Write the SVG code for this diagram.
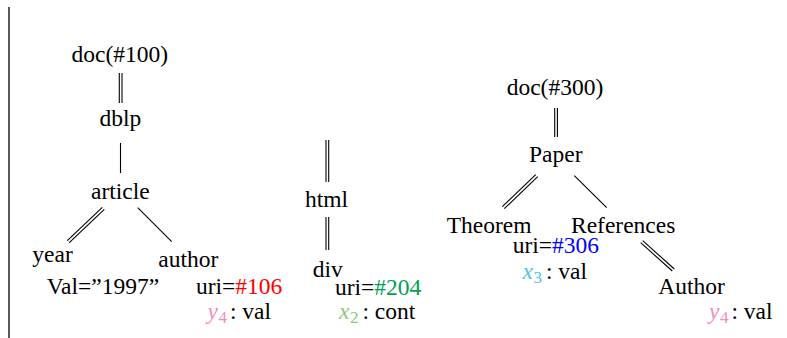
<svg xmlns="http://www.w3.org/2000/svg" width="787" height="338" viewBox="0 0 787 338">
<style>
text{font-family:"Liberation Serif","Times New Roman",serif;font-size:23.5px;fill:#000}
.m{font-style:italic}
.s{font-size:17px;font-style:normal}
.e{stroke:#000;stroke-width:1.1;fill:none}
.red{fill:#ff0000}.grn{fill:#00a055}.blu{fill:#0000ff}
.pink{fill:#f58bbf}.lg{fill:#8cc878}.cy{fill:#4fc3e0}
</style>
<rect width="787" height="338" fill="#fff"/>
<line x1="9" y1="7" x2="9" y2="338" stroke="#000" stroke-width="1.3"/>
<g id="connectors">
<line class="e" x1="119.3" y1="73" x2="119.3" y2="103"/><line class="e" x1="122" y1="73" x2="122" y2="103"/>
<line class="e" x1="120.5" y1="143" x2="120.5" y2="173"/>
<line class="e" x1="102.3" y1="207.3" x2="67.3" y2="240.7"/><line class="e" x1="104.3" y1="209.3" x2="69.3" y2="242.7"/>
<line class="e" x1="137.7" y1="207.7" x2="171.7" y2="241.7"/>
<line class="e" x1="326" y1="140" x2="326" y2="182"/><line class="e" x1="328.7" y1="140" x2="328.7" y2="182"/>
<line class="e" x1="326" y1="217" x2="326" y2="250"/><line class="e" x1="328.7" y1="217" x2="328.7" y2="250"/>
<line class="e" x1="554.7" y1="108" x2="554.7" y2="137"/><line class="e" x1="557.4" y1="108" x2="557.4" y2="137"/>
<line class="e" x1="535.7" y1="174.7" x2="502.3" y2="206.7"/><line class="e" x1="537.7" y1="176.7" x2="504.3" y2="208.7"/>
<line class="e" x1="574.3" y1="175.7" x2="606.7" y2="207.7"/>
<line class="e" x1="642.7" y1="240.7" x2="674.3" y2="269"/><line class="e" x1="640.7" y1="242.7" x2="672.3" y2="271"/>
</g>
<g id="doc100"><text x="71.5" y="61.5">doc(#100)</text></g>
<g id="dblp"><text x="99.5" y="126">dblp</text></g>
<g id="article"><text x="91" y="198.5">article</text></g>
<g id="year"><text x="32.3" y="261.5">year</text><text x="46.7" y="293.5">Val=”1997”</text></g>
<g id="author"><text x="158.3" y="266.5">author</text>
<text x="196" y="293.5">uri=<tspan class="red">#106</tspan></text>
<text x="207.5" y="318.5"><tspan class="m pink">y</tspan><tspan class="s pink" dx="0.5" dy="4">4</tspan><tspan dx="3" dy="-4">: val</tspan></text></g>
<g id="html"><text x="305" y="206.5">html</text></g>
<g id="div"><text x="312.7" y="276.5">div</text>
<text x="335" y="295">uri=<tspan class="grn">#204</tspan></text>
<text x="339" y="318.5"><tspan class="m lg">x</tspan><tspan class="s lg" dx="0.5" dy="4">2</tspan><tspan dx="4" dy="-4">: cont</tspan></text></g>
<g id="doc300"><text x="506.7" y="95">doc(#300)</text></g>
<g id="paper"><text x="529" y="161.5">Paper</text></g>
<g id="theorem"><text x="446.7" y="232.5">Theorem</text>
<text x="512.7" y="253">uri=<tspan class="blu">#306</tspan></text>
<text x="522.5" y="278.5"><tspan class="m cy">x</tspan><tspan class="s cy" dx="0.5" dy="4">3</tspan><tspan dx="4" dy="-4">: val</tspan></text></g>
<g id="references"><text x="571" y="232.5">References</text></g>
<g id="authorR"><text x="658.3" y="293.5">Author</text>
<text x="709" y="318.5"><tspan class="m pink">y</tspan><tspan class="s pink" dx="0.5" dy="4">4</tspan><tspan dx="3" dy="-4">: val</tspan></text></g>
</svg>
